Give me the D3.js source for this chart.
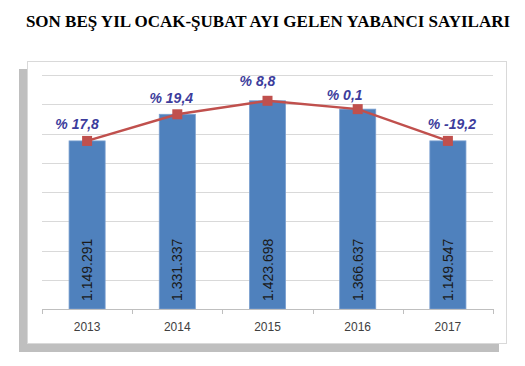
<!DOCTYPE html>
<html>
<head>
<meta charset="utf-8">
<script src="https://cdn.jsdelivr.net/npm/d3@7"></script>
<style>
  html, body { margin: 0; padding: 0; background: #fff; }
  svg { display: block; }
</style>
</head>
<body>
<svg id="chart" width="525" height="366"></svg>
<script>
const titleText = "SON BEŞ YIL OCAK-ŞUBAT AYI GELEN YABANCI SAYILARI";
const years = ["2013", "2014", "2015", "2016", "2017"];
const visitors = [1149291, 1331337, 1423698, 1366637, 1149547];
const valueLabels = ["1.149.291", "1.331.337", "1.423.698", "1.366.637", "1.149.547"];
const changeLabels = ["% 17,8", "% 19,4", "% 8,8", "% 0,1", "% -19,2"];
const yTicks = [0, 200000, 400000, 600000, 800000, 1000000, 1200000, 1400000, 1600000];

// layout (label nudges, as placed in the original)
const changeDx = [-10, -6, -10, -13, 4];
const changeDy = [-17, -16, -20, -14, -17];

const svg = d3.select("#chart");

// title
svg.append("text")
  .attr("x", 268).attr("y", 27)
  .attr("text-anchor", "middle")
  .attr("font-family", "'Liberation Serif', 'DejaVu Serif', serif")
  .attr("font-weight", "bold")
  .attr("font-size", 17)
  .attr("fill", "#000")
  .text(titleText);

// shadow + frame
svg.append("rect").attr("x", 19).attr("y", 69).attr("width", 480).attr("height", 283).attr("fill", "#bfbfbf");
svg.append("rect").attr("x", 27.5).attr("y", 61.5).attr("width", 479).attr("height", 282)
  .attr("fill", "#fff").attr("stroke", "#d9d9d9").attr("stroke-width", 1);

const plot = { left: 42, right: 493, top: 75, bottom: 309 };

const x = d3.scaleBand().domain(years).range([plot.left, plot.right]).paddingInner(0.6).paddingOuter(0.3);
const y = d3.scaleLinear().domain([0, 1600000]).range([plot.bottom, plot.top]);

// gridlines
const grid = svg.append("g")
  .attr("transform", `translate(${plot.left},0)`)
  .call(d3.axisLeft(y).tickValues(yTicks).tickSize(-(plot.right - plot.left)).tickFormat(""));
grid.select(".domain").remove();
grid.selectAll("line").attr("stroke", "#d9d9d9").attr("shape-rendering", "crispEdges");

// bars
svg.append("g").selectAll("rect")
  .data(visitors)
  .join("rect")
  .attr("x", (d, i) => x(years[i]))
  .attr("y", d => y(d))
  .attr("width", x.bandwidth())
  .attr("height", d => plot.bottom - y(d))
  .attr("fill", "#4f81bd")
  .attr("stroke", "#7a9fcf")
  .attr("stroke-width", 0.8);

// x axis (ticks at band boundaries)
const xBoundary = d3.scaleLinear().domain([0, years.length]).range([plot.left, plot.right]);
const axisG = svg.append("g").attr("transform", `translate(0,${plot.bottom})`);
axisG.append("line").attr("x1", plot.left).attr("x2", plot.right).attr("y1", 0.5).attr("y2", 0.5)
  .attr("stroke", "#bfbfbf");
axisG.selectAll("line.tk")
  .data(d3.range(years.length + 1))
  .join("line").attr("class", "tk")
  .attr("x1", d => Math.round(xBoundary(d)) + 0.5).attr("x2", d => Math.round(xBoundary(d)) + 0.5)
  .attr("y1", 0).attr("y2", 5).attr("stroke", "#bfbfbf");
axisG.selectAll("text")
  .data(years)
  .join("text")
  .attr("x", d => x(d) + x.bandwidth() / 2)
  .attr("y", 22)
  .attr("text-anchor", "middle")
  .attr("font-family", "'Liberation Sans', Arial, sans-serif")
  .attr("font-size", 12)
  .attr("fill", "#404040")
  .text(d => d);

// value labels inside bars (rotated)
svg.append("g").selectAll("text")
  .data(valueLabels)
  .join("text")
  .attr("transform", (d, i) => `translate(${x(years[i]) + x.bandwidth() / 2 + 5},${plot.bottom - 8}) rotate(-90)`)
  .attr("text-anchor", "start")
  .attr("font-family", "'Liberation Sans', Arial, sans-serif")
  .attr("font-size", 14)
  .attr("fill", "#1a1a1a")
  .text(d => d);

// line
const line = d3.line()
  .x((d, i) => x(years[i]) + x.bandwidth() / 2)
  .y(d => y(d));
svg.append("path")
  .datum(visitors)
  .attr("d", line)
  .attr("fill", "none")
  .attr("stroke", "#c0504d")
  .attr("stroke-width", 2.5);

// markers
const ms = 10;
svg.append("g").selectAll("rect")
  .data(visitors)
  .join("rect")
  .attr("x", (d, i) => x(years[i]) + x.bandwidth() / 2 - ms / 2)
  .attr("y", d => y(d) - ms / 2)
  .attr("width", ms).attr("height", ms)
  .attr("fill", "#c0504d");

// change labels
svg.append("g").selectAll("text")
  .data(changeLabels)
  .join("text")
  .attr("x", (d, i) => x(years[i]) + x.bandwidth() / 2 + changeDx[i])
  .attr("y", (d, i) => y(visitors[i]) + changeDy[i] + 5)
  .attr("text-anchor", "middle")
  .attr("font-family", "'Liberation Sans', Arial, sans-serif")
  .attr("font-size", 14)
  .attr("font-weight", "bold")
  .attr("font-style", "italic")
  .attr("fill", "#3c3c9c")
  .text(d => d);
</script>
</body>
</html>
